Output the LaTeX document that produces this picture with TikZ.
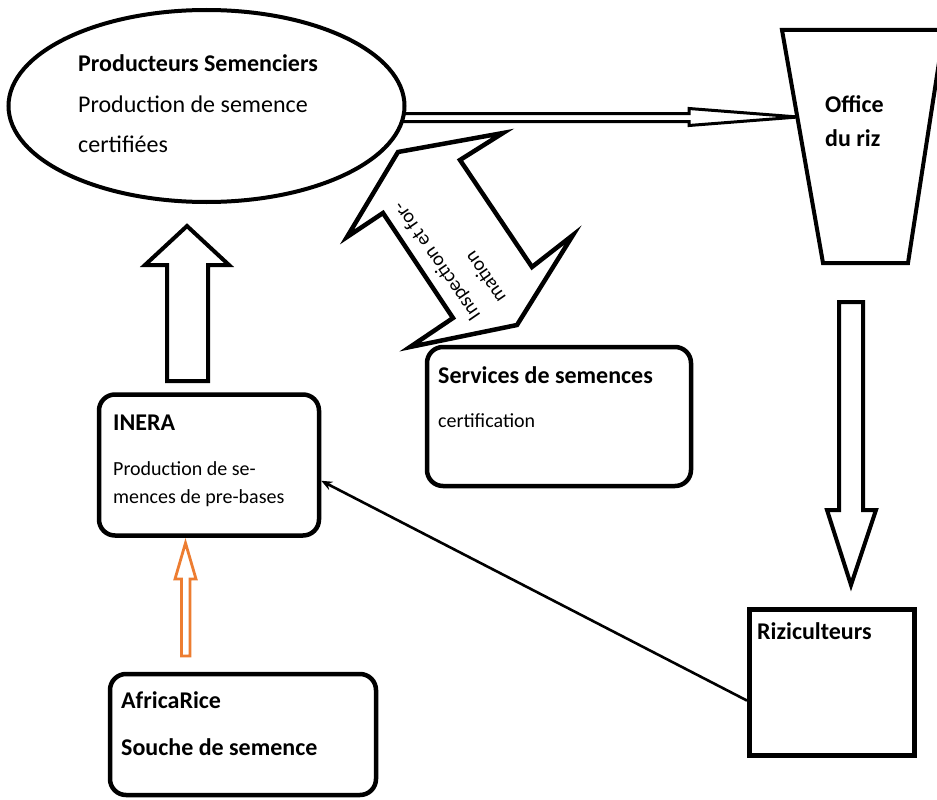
\documentclass[tikz,border=0pt]{standalone}
\usepackage{fontspec}
\setmainfont{Carlito}
\usetikzlibrary{shapes.geometric,arrows.meta}
\definecolor{orng}{RGB}{237,125,49}
\begin{document}
\begin{tikzpicture}[x=1pt,y=-1pt,
  box/.style={draw, rounded corners=16pt, line width=4.5pt, inner sep=0pt, fill=white},
  hd/.style={anchor=base west, inner sep=0pt, font=\fontsize{24}{28}\selectfont\bfseries},
  bodybig/.style={anchor=base west, inner sep=0pt, font=\fontsize{24}{28}\selectfont},
  body/.style={anchor=base west, inner sep=0pt, font=\fontsize{20}{24}\selectfont},
  blockarrow/.style={draw, line width=4pt, line join=miter, fill=white},
  conn/.style={line width=2.6pt, -{Stealth[length=11pt,width=9pt]}}
]
\clip (0,0) rectangle (937,800);
\fill[white] (0,0) rectangle (937,800);

% double-line arrow from producers to office
\coordinate (officeL) at (798,117);
\draw[line width=3pt, line join=miter] (395,113.5) -- (689,113.5) -- (689,108.5) -- (officeL) -- (689,125.5) -- (689,121.5) -- (395,121.5);

% nodes
\node[ellipse, draw, line width=4pt, fill=white, minimum width=396pt, minimum height=192pt, inner sep=0pt] (prod) at (206.5,106) {};
\draw[line width=4pt, line join=miter] (782,30) -- (944,30) -- (908,263) -- (823,263) -- cycle;
\node[box, minimum width=220pt, minimum height=141pt] (inera) at (209,465) {};
\node[box, minimum width=264pt, minimum height=139pt] (serv) at (559,416.5) {};
\node[box, minimum width=266pt, minimum height=121pt] (africa) at (243,734.5) {};
\node[draw, line width=5pt, fill=white, minimum width=165pt, minimum height=146pt, inner sep=0pt] (rizi) at (832,682.5) {};

% double block arrow "Inspection et formation"
\draw[blockarrow, line width=4.5pt] (347,237) -- (398,152) -- (503,133) -- (460,160) -- (532,267) -- (573,235) -- (517,325) -- (410,347) -- (453,318) -- (383,213) -- cycle;
\node[rotate=124.5, align=left, inner sep=0pt, font=\fontsize{20}{31}\selectfont] (insp) at (449,253) {Inspection et for-\\mation};

% up block arrow INERA -> producers
\draw[blockarrow] (167,381) -- (167,265) -- (145,265) -- (187,226) -- (229,265) -- (208,265) -- (208,381) -- cycle;
% down block arrow office -> riziculteurs
\draw[blockarrow] (839,302) -- (863,302) -- (863,510) -- (876,510) -- (851,585) -- (827,510) -- (839,510) -- cycle;
% orange arrow AfricaRice -> INERA
\draw[draw=orng, line width=2.8pt, line join=miter] (181.5,656) -- (181.5,579) -- (175,579) -- (185.5,543) -- (196,579) -- (190,579) -- (190,656) -- cycle;

% thin connector riziculteurs -> INERA
\draw[conn] (rizi.192) -- (inera.352);

% texts
\node[hd] (t-prod) at (78,72) {Producteurs Semenciers};
\node[bodybig] (t-prod2) at (78,112) {Production de semence};
\node[bodybig] (t-prod3) at (78,152) {certifiées};
\node[hd] (t-off1) at (825,112) {Office};
\node[hd] (t-off2) at (825,146) {du riz};
\node[hd] (t-serv) at (438,383) {Services de semences};
\node[body] (t-serv2) at (438,427) {certification};
\node[hd] (t-inera) at (113,430) {INERA};
\node[body] (t-inera2) at (113,475) {Production de se-};
\node[body] (t-inera3) at (113,503) {mences de pre-bases};
\node[hd] (t-afr) at (121,708) {AfricaRice};
\node[hd] (t-afr2) at (121,755) {Souche de semence};
\node[hd] (t-rizi) at (757,639) {Riziculteurs};
\end{tikzpicture}
\end{document}
